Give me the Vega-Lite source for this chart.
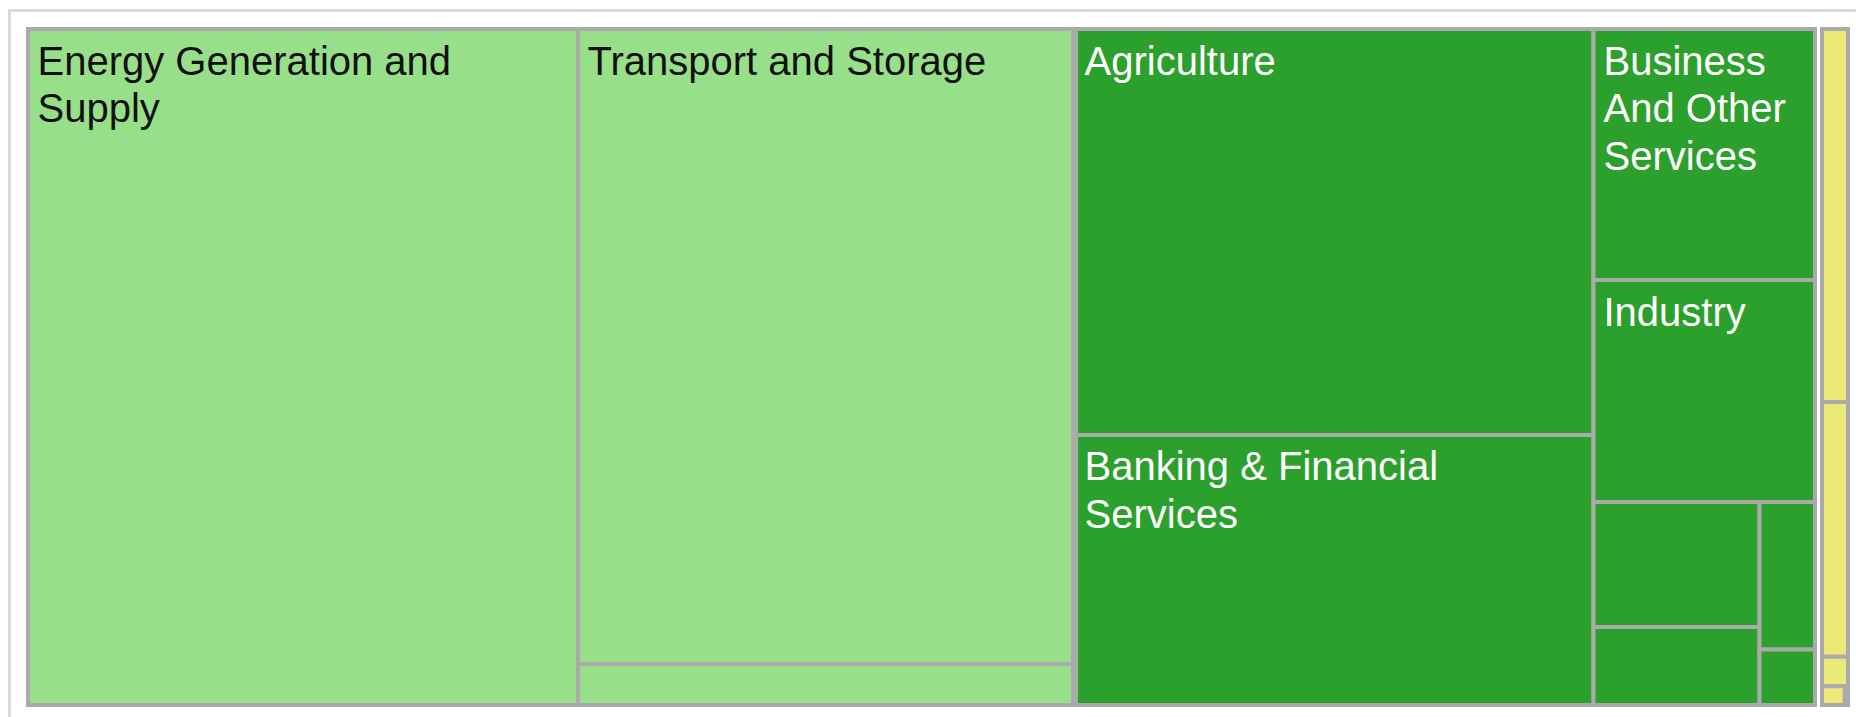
{
  "$schema": "https://vega.github.io/schema/vega-lite/v6.json",
  "width": 1846.5,
  "height": 706.5,
  "autosize": {"type": "none"},
  "padding": {"left": 9.5, "top": 10.5, "right": 0, "bottom": 0},
  "background": "#ffffff",
  "config": {"view": {"stroke": null}, "axis": {"translate": 0}},
  "data": {
    "values": [
      {"group": "Light", "col": 1, "block": "b1", "sub": 1, "ord": 1, "name": "Energy Generation and Supply", "label": "Energy Generation and\nSupply", "value": 371.8},
      {"group": "Light", "col": 2, "block": "b2", "sub": 1, "ord": 1, "name": "Transport and Storage", "label": "Transport and Storage", "value": 315.28},
      {"group": "Light", "col": 2, "block": "b3", "sub": 1, "ord": 2, "name": "Unlabelled 1", "label": null, "value": 20.36},
      {"group": "Dark", "col": 3, "block": "b4", "sub": 1, "ord": 1, "name": "Agriculture", "label": "Agriculture", "value": 210.71},
      {"group": "Dark", "col": 3, "block": "b5", "sub": 1, "ord": 2, "name": "Banking & Financial Services", "label": "Banking & Financial\nServices", "value": 140.13},
      {"group": "Dark", "col": 4, "block": "b6", "sub": 1, "ord": 1, "name": "Business And Other Services", "label": "Business\nAnd Other\nServices", "value": 56.48},
      {"group": "Dark", "col": 4, "block": "b7", "sub": 1, "ord": 2, "name": "Industry", "label": "Industry", "value": 49.95},
      {"group": "Dark", "col": 4, "block": "b8", "sub": 1, "ord": 3, "name": "Unlabelled 2", "label": null, "value": 20.75},
      {"group": "Dark", "col": 4, "block": "b8", "sub": 1, "ord": 4, "name": "Unlabelled 3", "label": null, "value": 12.95},
      {"group": "Dark", "col": 4, "block": "b8", "sub": 2, "ord": 5, "name": "Unlabelled 4", "label": null, "value": 8.7},
      {"group": "Dark", "col": 4, "block": "b8", "sub": 2, "ord": 6, "name": "Unlabelled 5", "label": null, "value": 3.27},
      {"group": "Yellow", "col": 5, "block": "b9", "sub": 1, "ord": 1, "name": "Unlabelled 6", "label": null, "value": 11.0},
      {"group": "Yellow", "col": 5, "block": "b10", "sub": 1, "ord": 2, "name": "Unlabelled 7", "label": null, "value": 7.52},
      {"group": "Yellow", "col": 5, "block": "b11", "sub": 1, "ord": 3, "name": "Unlabelled 8", "label": null, "value": 0.87},
      {"group": "Yellow", "col": 5, "block": "b12", "sub": 1, "ord": 4, "name": "Unlabelled 9", "label": null, "value": 0.49},
      {"group": "Yellow", "col": 5, "block": "b12", "sub": 2, "ord": 5, "name": "Unlabelled 10", "label": null, "value": 0.06}
    ]
  },
  "transform": [
    {"stack": "value", "groupby": [], "sort": [{"field": "col", "order": "ascending"}, {"field": "ord", "order": "ascending"}], "offset": "normalize", "as": ["sx0", "sx1"]},
    {"joinaggregate": [{"op": "min", "field": "sx0", "as": "cx0"}, {"op": "max", "field": "sx1", "as": "cx1"}], "groupby": ["col"]},
    {"stack": "value", "groupby": ["col"], "sort": [{"field": "ord", "order": "ascending"}], "offset": "normalize", "as": ["sy0", "sy1"]},
    {"joinaggregate": [{"op": "min", "field": "sy0", "as": "by0"}, {"op": "max", "field": "sy1", "as": "by1"}], "groupby": ["col", "block"]},
    {"stack": "value", "groupby": ["col", "block"], "sort": [{"field": "sub", "order": "ascending"}, {"field": "ord", "order": "ascending"}], "offset": "normalize", "as": ["bx0", "bx1"]},
    {"joinaggregate": [{"op": "min", "field": "bx0", "as": "rx0"}, {"op": "max", "field": "bx1", "as": "rx1"}], "groupby": ["col", "block", "sub"]},
    {"stack": "value", "groupby": ["col", "block", "sub"], "sort": [{"field": "ord", "order": "ascending"}], "offset": "normalize", "as": ["ry0", "ry1"]},
    {"calculate": "datum.cx0 + datum.rx0 * (datum.cx1 - datum.cx0)", "as": "x0"},
    {"calculate": "datum.cx0 + datum.rx1 * (datum.cx1 - datum.cx0)", "as": "x1"},
    {"calculate": "datum.by0 + datum.ry0 * (datum.by1 - datum.by0)", "as": "y0"},
    {"calculate": "datum.by0 + datum.ry1 * (datum.by1 - datum.by0)", "as": "y1"}
  ],
  "encoding": {
    "x": {
      "field": "x0", "type": "quantitative",
      "scale": {"domain": [-0.0101648, 1.0043956], "nice": false, "zero": false},
      "axis": {"orient": "top", "domainColor": "#d9d9d9", "domainWidth": 3, "domainCap": "square", "ticks": false, "labels": false, "grid": false, "title": null}
    },
    "y": {
      "field": "y0", "type": "quantitative",
      "scale": {"domain": [-0.0273669, 1.0177514], "nice": false, "zero": false, "reverse": true},
      "axis": {"orient": "left", "domainColor": "#d9d9d9", "domainWidth": 3, "domainCap": "square", "ticks": false, "labels": false, "grid": false, "title": null}
    }
  },
  "layer": [
    {
      "mark": {"type": "rect", "stroke": "#aaaaaa", "strokeWidth": 4},
      "encoding": {
        "x2": {"field": "x1"},
        "y2": {"field": "y1"},
        "color": {"field": "group", "type": "nominal", "scale": {"domain": ["Light", "Dark", "Yellow"], "range": ["#98df8a", "#2ca02c", "#ece978"]}, "legend": null}
      }
    },
    {
      "transform": [
        {"filter": "datum.group == 'Dark'"},
        {"aggregate": [{"op": "min", "field": "x0", "as": "x0"}, {"op": "min", "field": "y0", "as": "y0"}, {"op": "max", "field": "y1", "as": "y1"}], "groupby": ["group"]}
      ],
      "mark": {"type": "rule", "color": "#aaaaaa", "strokeWidth": 7, "yOffset": -2, "y2Offset": 2},
      "encoding": {"y2": {"field": "y1"}}
    },
    {
      "transform": [
        {"filter": "datum.group == 'Yellow'"},
        {"aggregate": [{"op": "min", "field": "x0", "as": "x0"}, {"op": "min", "field": "y0", "as": "y0"}, {"op": "max", "field": "y1", "as": "y1"}], "groupby": ["group"]}
      ],
      "mark": {"type": "rule", "color": "#aaaaaa", "strokeWidth": 11, "yOffset": -2, "y2Offset": 2},
      "encoding": {"y2": {"field": "y1"}}
    },
    {
      "transform": [
        {"filter": "datum.group == 'Yellow'"},
        {"aggregate": [{"op": "min", "field": "x0", "as": "x0"}, {"op": "min", "field": "y0", "as": "y0"}, {"op": "max", "field": "y1", "as": "y1"}], "groupby": ["group"]}
      ],
      "mark": {"type": "rule", "color": "#ffffff", "strokeWidth": 3, "yOffset": -3, "y2Offset": 3},
      "encoding": {"y2": {"field": "y1"}}
    },
    {
      "transform": [{"filter": "datum.label != null && datum.group == 'Light'"}],
      "mark": {"type": "text", "align": "left", "baseline": "alphabetic", "dx": 9.5, "dy": 45.5, "font": "Liberation Sans", "fontSize": 40, "lineBreak": "\n", "lineHeight": 47.5, "color": "#111111"},
      "encoding": {"text": {"field": "label"}}
    },
    {
      "transform": [{"filter": "datum.label != null && datum.group == 'Dark'"}],
      "mark": {"type": "text", "align": "left", "baseline": "alphabetic", "dx": 10, "dy": 45.5, "font": "Liberation Sans", "fontSize": 40, "lineBreak": "\n", "lineHeight": 47.5, "color": "#ffffff"},
      "encoding": {"text": {"field": "label"}}
    }
  ]
}
